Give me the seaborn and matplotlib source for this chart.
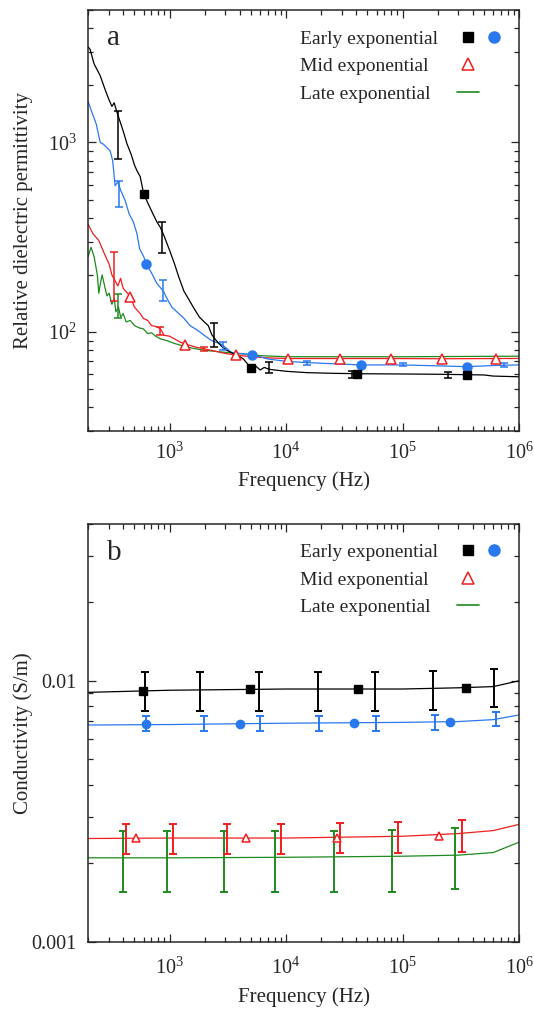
import matplotlib
matplotlib.use('Agg')
import matplotlib.pyplot as plt
import seaborn as sns
import pandas as pd
from matplotlib.lines import Line2D
from matplotlib.legend_handler import HandlerTuple
from matplotlib.ticker import NullFormatter

# ---------------- panel a : relative dielectric permittivity ----------------
# black trace (early exponential, sample 1)
a_black_f = [200, 208, 225, 254, 280, 300, 320, 335, 353, 400, 431, 470, 500, 525, 560, 598,
             650, 720, 780, 832, 900, 1000, 1100, 1200, 1330, 1450, 1600, 1800, 1985, 2150,
             2300, 2450, 2605, 2800, 3100, 3500, 3890, 4300, 4960, 5500, 6000, 6500, 7160,
             8000, 10000, 15000, 25000, 41000, 100000, 200000, 356000, 500000, 600000, 1000000]
a_black_v = [3200, 3100, 2600, 2250, 1900, 1700, 1550, 1620, 1450, 1150, 985, 860, 760, 710, 660, 540,
             480, 420, 380, 357, 320, 270, 230, 195, 164, 150, 135, 120, 113, 108,
             97, 92, 88, 84, 80, 77, 75, 72, 65, 66, 63, 65, 63.5,
             63, 62, 61, 60.5, 60.2, 60, 59.8, 59.5, 59.3, 58.5, 58]
a_black_mark_f = [598, 4960, 41000, 356000]
a_black_mark_v = [535, 64.8, 59.7, 59.0]
a_black_err_f = [362, 859, 2400, 7100, 36600, 245000]
a_black_err_v = [1144, 320, 97, 65, 59.7, 59.3]
a_black_err_e = [324, 60, 14, 4, 2.3, 2.3]

# blue trace (early exponential, sample 2)
a_blue_f = [200, 215, 235, 254, 270, 290, 309, 325, 341, 360, 380, 416, 450, 490, 525, 554,
            600, 631, 700, 780, 887, 950, 1050, 1200, 1330, 1500, 1700, 1985, 2300, 2800,
            3410, 4000, 5130, 7000, 10000, 15100, 43800, 100000, 355000, 600000, 1000000]
a_blue_v = [1650, 1450, 1250, 1000, 980, 940, 904, 800, 591, 620, 560, 493, 420, 380, 330, 274,
            250, 228, 205, 180, 164, 150, 135, 125, 118, 108, 103, 96, 90, 86,
            78, 77, 75.8, 72, 70, 68.9, 67, 67, 65.6, 66.5, 67]
a_blue_mark_f = [631, 5130, 43800, 355000]
a_blue_mark_v = [228, 75.8, 67, 65.6]
a_blue_err_f = [371, 887, 2880, 15100, 100000, 740000]
a_blue_err_v = [540, 167, 84, 68.5, 67, 66.8]
a_blue_err_e = [85, 22, 4, 1.5, 1.2, 1.8]

# red trace (mid exponential)
a_red_f = [200, 220, 247, 275, 303, 320, 335, 360, 380, 400, 460, 500, 560, 594, 650, 700,
           760, 832, 900, 1000, 1100, 1250, 1355, 1700, 1985, 2500, 3000, 3730, 5000, 7000,
           10300, 28800, 79500, 219000, 630000, 1000000]
a_red_v = [370, 330, 304, 260, 228, 200, 190, 175, 192, 170, 154, 135, 125, 118, 115, 108,
           107, 104, 96, 95, 92, 88, 86.5, 83, 81.5, 79, 77, 75.5, 74, 73,
           72.4, 72.4, 72.4, 72.2, 72.4, 72.5]
a_red_mark_f = [460, 1355, 3730, 10300, 28800, 79500, 219000, 630000]
a_red_mark_v = [153, 85.4, 75.5, 72.4, 72.4, 72.4, 72.2, 72.4]
a_red_err_f = [335, 832, 1985]
a_red_err_v = [205, 101, 81.5]
a_red_err_e = [60, 5, 2]

# green trace (late exponential)
a_green_f = [200, 212, 225, 240, 247, 255, 264, 280, 290, 303, 320, 335, 346, 365, 380, 400,
             424, 460, 500, 550, 593, 650, 700, 760, 832, 950, 1100, 1425, 2000, 2605,
             3890, 6000, 10000, 100000, 1000000]
a_green_v = [250, 280, 250, 200, 160, 180, 200, 170, 155, 160, 140, 150, 128, 135, 120, 125,
             113, 115, 108, 105, 104, 98, 99, 95, 92, 90, 87, 83, 80, 78.7,
             77, 75, 74, 74, 74.5]
a_green_err_f = [364]
a_green_err_v = [138]
a_green_err_e = [20]

# ---------------- panel b : conductivity ----------------
b_black_f = [200, 1000, 10000, 100000, 300000, 600000, 1000000]
b_black_v = [0.00903, 0.0092, 0.0093, 0.0093, 0.0094, 0.0095, 0.0100]
b_black_mark_f = [592, 4930, 41100, 350000]
b_black_mark_v = [0.00916, 0.0093, 0.0093, 0.0094]
b_black_err_f = [612, 1820, 5840, 18700, 57500, 183000, 608000]
b_black_err_v = [0.0092, 0.0092, 0.0092, 0.0092, 0.0092, 0.0093, 0.0095]
b_black_err_e = [0.00156, 0.00156, 0.00156, 0.00156, 0.00156, 0.00157, 0.00157]

b_blue_f = [200, 1000, 10000, 100000, 300000, 600000, 1000000]
b_blue_v = [0.00677, 0.0068, 0.00688, 0.00693, 0.00698, 0.0071, 0.0074]
b_blue_mark_f = [629, 4060, 38500, 253000]
b_blue_mark_v = [0.00683, 0.00686, 0.0069, 0.00693]
b_blue_err_f = [632, 1960, 6030, 19300, 59300, 190000, 637000]
b_blue_err_v = [0.00685, 0.00685, 0.00685, 0.00688, 0.0069, 0.00692, 0.00715]
b_blue_err_e = [0.00045, 0.00045, 0.00045, 0.00045, 0.00045, 0.00045, 0.00044]

b_red_f = [200, 1000, 10000, 100000, 300000, 600000, 1000000]
b_red_v = [0.00249, 0.0025, 0.0025, 0.00254, 0.0026, 0.00267, 0.00282]
b_red_mark_f = [516, 4520, 27500, 207000]
b_red_mark_v = [0.0025, 0.0025, 0.0025, 0.00254]
b_red_err_f = [423, 1070, 3140, 9040, 28800, 92300, 321000]
b_red_err_v = [0.0025, 0.0025, 0.0025, 0.0025, 0.00252, 0.00254, 0.00257]
b_red_err_e = [0.00032, 0.00032, 0.00032, 0.00032, 0.00033, 0.00034, 0.00035]

b_green_f = [200, 1000, 10000, 100000, 300000, 600000, 1000000]
b_green_v = [0.0021, 0.0021, 0.00211, 0.00213, 0.00215, 0.0022, 0.00241]
b_green_err_f = [395, 948, 2920, 8050, 25600, 81600, 284000]
b_green_err_v = [0.00211, 0.00211, 0.00211, 0.00211, 0.00211, 0.00212, 0.00216]
b_green_err_e = [0.00056, 0.00056, 0.00056, 0.00056, 0.00056, 0.00056, 0.00056]

legend_labels = ['Early exponential', 'Mid exponential', 'Late exponential']

BLACK = '#000000'
BLUE = '#2a78f0'
RED = '#f01e1e'
GREEN = '#1f8a1f'

sns.set_style('ticks')
plt.rcParams['font.family'] = ['Liberation Serif', 'DejaVu Serif']
plt.rcParams['mathtext.fontset'] = 'custom'
plt.rcParams['mathtext.rm'] = 'Liberation Serif'
plt.rcParams['mathtext.it'] = 'Liberation Serif:italic'

fig = plt.figure(figsize=(5.34, 10.13), dpi=100)
ax_a = fig.add_axes([0.165, 0.5745, 0.807, 0.4156])
ax_b = fig.add_axes([0.165, 0.0701, 0.807, 0.4131])


def trace(ax, f, v, color):
    df = pd.DataFrame({'f': f, 'v': v})
    sns.lineplot(data=df, x='f', y='v', ax=ax, color=color, lw=0.9,
                 estimator=None, sort=False)


def bars(ax, f, v, e, color, lw=1.1):
    ax.errorbar(f, v, yerr=e, fmt='none', ecolor=color, elinewidth=lw,
                capsize=2.8, capthick=lw)


# panel a
trace(ax_a, a_green_f, a_green_v, GREEN)
trace(ax_a, a_red_f, a_red_v, RED)
trace(ax_a, a_blue_f, a_blue_v, BLUE)
trace(ax_a, a_black_f, a_black_v, BLACK)
bars(ax_a, a_green_err_f, a_green_err_v, a_green_err_e, GREEN)
bars(ax_a, a_red_err_f, a_red_err_v, a_red_err_e, RED)
bars(ax_a, a_blue_err_f, a_blue_err_v, a_blue_err_e, BLUE)
bars(ax_a, a_black_err_f, a_black_err_v, a_black_err_e, BLACK)
ax_a.plot(a_red_mark_f, a_red_mark_v, ls='none', marker='^', ms=7, mfc='white', mec=RED, mew=1.1)
ax_a.plot(a_blue_mark_f, a_blue_mark_v, ls='none', marker='o', ms=6.5, color=BLUE)
ax_a.plot(a_black_mark_f, a_black_mark_v, ls='none', marker='s', ms=6, color=BLACK)

# panel b
trace(ax_b, b_green_f, b_green_v, GREEN)
trace(ax_b, b_red_f, b_red_v, RED)
trace(ax_b, b_blue_f, b_blue_v, BLUE)
trace(ax_b, b_black_f, b_black_v, BLACK)
bars(ax_b, b_green_err_f, b_green_err_v, b_green_err_e, GREEN, 1.4)
bars(ax_b, b_red_err_f, b_red_err_v, b_red_err_e, RED, 1.4)
bars(ax_b, b_blue_err_f, b_blue_err_v, b_blue_err_e, BLUE, 1.4)
bars(ax_b, b_black_err_f, b_black_err_v, b_black_err_e, BLACK, 1.4)
ax_b.plot(b_red_mark_f, b_red_mark_v, ls='none', marker='^', ms=6, mfc='white', mec=RED, mew=1.1)
ax_b.plot(b_blue_mark_f, b_blue_mark_v, ls='none', marker='o', ms=6, color=BLUE)
ax_b.plot(b_black_mark_f, b_black_mark_v, ls='none', marker='s', ms=6, color=BLACK)

for ax, letter in [(ax_a, 'a'), (ax_b, 'b')]:
    ax.set_xscale('log')
    ax.set_yscale('log')
    ax.set_xlim(200, 1e6)
    ax.set_xlabel('Frequency (Hz)', fontsize=15, labelpad=6)
    ax.tick_params(which='both', direction='in', top=True, right=True, width=0.9,
                   labelsize=14.5)
    ax.tick_params(which='major', length=6)
    ax.tick_params(which='minor', length=3.5)
    ax.tick_params(axis='x', pad=8 if letter == 'a' else 11)
    ax.tick_params(axis='y', pad=8)
    ax.xaxis.set_minor_formatter(NullFormatter())
    ax.yaxis.set_minor_formatter(NullFormatter())
    for s in ax.spines.values():
        s.set_linewidth(1.1)
    ax.text(0.044, 0.918 if letter == 'a' else 0.912, letter, transform=ax.transAxes,
            fontsize=21, va='baseline', ha='left')

    # legend: left-aligned texts, then a column of keys to their right
    blank = Line2D([], [], ls='none', marker='none')
    text_leg = ax.legend([blank, blank, blank], legend_labels, loc='upper left',
                         bbox_to_anchor=(0.492, 0.952), frameon=False, fontsize=14,
                         handlelength=0, handletextpad=0, labelspacing=0.5,
                         borderpad=0, borderaxespad=0)
    ax.add_artist(text_leg)
    h_early = (Line2D([], [], ls='none', marker='s', ms=7, color=BLACK),
               Line2D([], [], ls='none', marker='o', ms=8, color=BLUE))
    h_mid = (Line2D([], [], ls='none', marker='^', ms=9, mfc='white', mec=RED, mew=1.1), blank)
    h_late = (Line2D([], [], color=GREEN, lw=1.2), blank)
    ax.legend([h_early, h_mid, h_late], [' ', ' ', ' '],
              handler_map={tuple: HandlerTuple(ndivide=None, pad=0.2)},
              loc='upper left', bbox_to_anchor=(0.855, 0.952), frameon=False, fontsize=14,
              handlelength=2.5, handletextpad=0, labelspacing=0.5,
              borderpad=0, borderaxespad=0)

ax_a.set_ylim(30, 5000)
ax_a.set_ylabel('Relative dielectric permittivity', fontsize=15)

ax_b.set_ylim(0.001, 0.04)
ax_b.set_yticks([0.001, 0.01], ['0.001', '0.01'])
ax_b.yaxis.set_minor_formatter(NullFormatter())
ax_b.set_ylabel('Conductivity (S/m)', fontsize=15)
ax_a.yaxis.set_label_coords(-0.128, 0.5)
ax_b.yaxis.set_label_coords(-0.128, 0.5)

fig.savefig('out.png', dpi=100)
